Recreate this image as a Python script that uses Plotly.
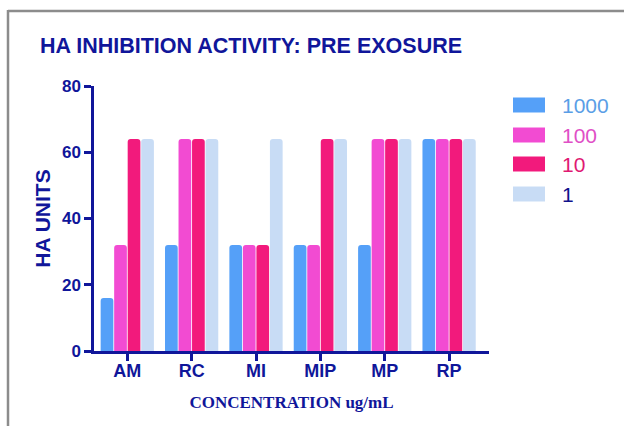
import plotly.graph_objects as go

categories = ["AM", "RC", "MI", "MIP", "MP", "RP"]
series_names = ["1000", "100", "10", "1"]
values_1000 = [16, 32, 32, 32, 32, 64]
values_100 = [32, 64, 32, 32, 64, 64]
values_10 = [64, 64, 32, 64, 64, 64]
values_1 = [64, 64, 64, 64, 64, 64]
series_values = [values_1000, values_100, values_10, values_1]

bar_colors = ["#55a0f8", "#f24bd2", "#f21a7c", "#c8dcf5"]
legend_text_colors = ["#5a9ee6", "#e04fc6", "#e01a72", "#10128c"]
NAVY = "#10169a"

W, H = 624, 426
L, R, T, B = 94, 489, 86, 351

fig = go.Figure()
for name, vals, col in zip(series_names, series_values, bar_colors):
    fig.add_trace(go.Bar(x=categories, y=vals, name=name, marker_color=col,
                         marker_line_width=0, showlegend=False))

def px_x(x):
    return (x - L) / (R - L)

def px_y(y):
    return (B - y) / (B - T)

shapes = []
annotations = []
# border lines
shapes.append(dict(type="line", xref="paper", yref="paper",
                   x0=px_x(8), x1=px_x(624), y0=px_y(11), y1=px_y(11),
                   line=dict(color="#8c8c8c", width=2.5)))
shapes.append(dict(type="line", xref="paper", yref="paper",
                   x0=px_x(8), x1=px_x(8), y0=px_y(10), y1=px_y(426),
                   line=dict(color="#8c8c8c", width=2.5)))

# legend
legend_y = [105, 135, 164, 194]
for name, col, tcol, yy in zip(series_names, bar_colors, legend_text_colors, legend_y):
    shapes.append(dict(type="rect", xref="paper", yref="paper",
                       x0=px_x(513), x1=px_x(545), y0=px_y(yy - 7.5), y1=px_y(yy + 7.5),
                       fillcolor=col, line=dict(width=0)))
    annotations.append(dict(xref="paper", yref="paper", x=px_x(560), y=px_y(yy),
                            xanchor="left", yanchor="middle", showarrow=False,
                            text=name, font=dict(family="Arial, Liberation Sans", size=21, color=tcol)))

fig.update_layout(
    width=W, height=H,
    margin=dict(l=L, r=W - R, t=T, b=H - B),
    paper_bgcolor="white", plot_bgcolor="white",
    barmode="group", bargap=0.16, bargroupgap=0.06, barcornerradius=3,
    title=dict(text="<b>HA INHIBITION ACTIVITY: PRE EXOSURE</b>",
               x=40 / W, xanchor="left", y=1 - 45 / H, yanchor="middle",
               font=dict(family="Arial, Liberation Sans", size=21.5, color=NAVY)),
    xaxis=dict(range=[-0.517, 5.62], showline=True, linecolor=NAVY, linewidth=2.5,
               ticks="outside", ticklen=7, tickwidth=2.5, tickcolor=NAVY,
               showgrid=False, zeroline=False, ticklabelstandoff=-5,
               tickfont=dict(family="Arial, Liberation Sans", size=18, color=NAVY),
               tickprefix="<b>", ticksuffix="</b>",
               title=dict(text="<b>CONCENTRATION ug/mL</b>", standoff=16,
                          font=dict(family="Liberation Serif, Times New Roman, serif", size=17, color=NAVY))),
    yaxis=dict(range=[0, 80], dtick=20, showline=True, linecolor=NAVY, linewidth=2.5,
               ticks="outside", ticklen=7, tickwidth=2.5, tickcolor=NAVY,
               showgrid=False, zeroline=False,
               tickfont=dict(family="Arial, Liberation Sans", size=17, color=NAVY),
               tickprefix="<b>", ticksuffix="</b>",
               title=dict(text="<b>HA UNITS</b>", standoff=6,
                          font=dict(family="Arial, Liberation Sans", size=21, color=NAVY))),
    shapes=shapes, annotations=annotations,
)

fig.write_html("out.html", config={"displayModeBar": False},
               post_script="document.body.style.margin='0';")
